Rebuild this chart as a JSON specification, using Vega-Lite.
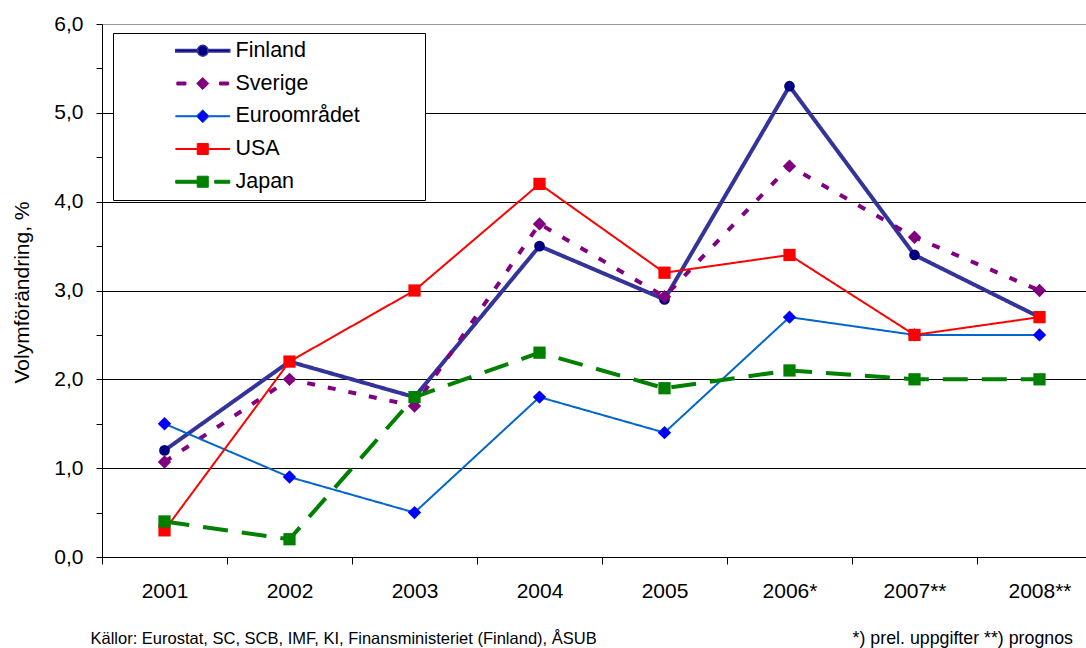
{
  "$schema": "https://vega.github.io/schema/vega-lite/v6.json",
  "width": 1000,
  "height": 533,
  "autosize": {"type": "none"},
  "padding": {"left": 102, "top": 24, "right": 0, "bottom": 91},
  "background": "white",
  "config": {
    "font": "Liberation Sans",
    "view": {"stroke": null}
  },
  "title": {
    "text": "*) prel. uppgifter **) prognos",
    "orient": "bottom",
    "anchor": "end",
    "frame": "group",
    "offset": -3,
    "baseline": "alphabetic",
    "dx": -29,
    "fontSize": 17.8,
    "fontWeight": "normal",
    "color": "#000000",
    "font": "Liberation Sans"
  },
  "data": {
    "values": [
      {"year": "2001", "series": "Finland", "value": 1.2},
      {"year": "2002", "series": "Finland", "value": 2.2},
      {"year": "2003", "series": "Finland", "value": 1.8},
      {"year": "2004", "series": "Finland", "value": 3.5},
      {"year": "2005", "series": "Finland", "value": 2.9},
      {"year": "2006*", "series": "Finland", "value": 5.3},
      {"year": "2007**", "series": "Finland", "value": 3.4},
      {"year": "2008**", "series": "Finland", "value": 2.7},
      {"year": "2001", "series": "Sverige", "value": 1.07},
      {"year": "2002", "series": "Sverige", "value": 2.0},
      {"year": "2003", "series": "Sverige", "value": 1.7},
      {"year": "2004", "series": "Sverige", "value": 3.75},
      {"year": "2005", "series": "Sverige", "value": 2.93},
      {"year": "2006*", "series": "Sverige", "value": 4.4},
      {"year": "2007**", "series": "Sverige", "value": 3.6},
      {"year": "2008**", "series": "Sverige", "value": 3.0},
      {"year": "2001", "series": "Euroområdet", "value": 1.5},
      {"year": "2002", "series": "Euroområdet", "value": 0.9},
      {"year": "2003", "series": "Euroområdet", "value": 0.5},
      {"year": "2004", "series": "Euroområdet", "value": 1.8},
      {"year": "2005", "series": "Euroområdet", "value": 1.4},
      {"year": "2006*", "series": "Euroområdet", "value": 2.7},
      {"year": "2007**", "series": "Euroområdet", "value": 2.5},
      {"year": "2008**", "series": "Euroområdet", "value": 2.5},
      {"year": "2001", "series": "USA", "value": 0.3},
      {"year": "2002", "series": "USA", "value": 2.2},
      {"year": "2003", "series": "USA", "value": 3.0},
      {"year": "2004", "series": "USA", "value": 4.2},
      {"year": "2005", "series": "USA", "value": 3.2},
      {"year": "2006*", "series": "USA", "value": 3.4},
      {"year": "2007**", "series": "USA", "value": 2.5},
      {"year": "2008**", "series": "USA", "value": 2.7},
      {"year": "2001", "series": "Japan", "value": 0.4},
      {"year": "2002", "series": "Japan", "value": 0.2},
      {"year": "2003", "series": "Japan", "value": 1.8},
      {"year": "2004", "series": "Japan", "value": 2.3},
      {"year": "2005", "series": "Japan", "value": 1.9},
      {"year": "2006*", "series": "Japan", "value": 2.1},
      {"year": "2007**", "series": "Japan", "value": 2.0},
      {"year": "2008**", "series": "Japan", "value": 2.0}
    ]
  },
  "encoding": {
    "x": {
      "field": "year",
      "type": "ordinal",
      "sort": null,
      "scale": {
        "type": "band",
        "domain": ["2001", "2002", "2003", "2004", "2005", "2006*", "2007**", "2008**"],
        "paddingInner": 0,
        "paddingOuter": 0
      },
      "axis": {
        "title": "Källor: Eurostat, SC, SCB, IMF, KI, Finansministeriet (Finland), ÅSUB",
        "titleX": -12,
        "titleY": 86,
        "titleAlign": "left",
        "titleBaseline": "alphabetic",
        "titleFontSize": 16.5,
        "titleFontWeight": "normal",
        "titleColor": "#000000",
        "titleFont": "Liberation Sans",
        "labelAngle": 0,
        "labelFontSize": 21,
        "labelFont": "Liberation Sans",
        "labelColor": "#000000",
        "labelPadding": 16,
        "tickSize": 7,
        "tickColor": "#000000",
        "tickBand": "extent",
        "domainColor": "#000000",
        "grid": false
      }
    },
    "y": {
      "field": "value",
      "type": "quantitative",
      "scale": {"domain": [0, 6], "nice": false, "zero": false},
      "axis": {
        "title": "Volymförändring, %",
        "values": [0, 0.5, 1, 1.5, 2, 2.5, 3, 3.5, 4, 4.5, 5, 5.5, 6],
        "labelExpr": "datum.value % 1 === 0 ? replace(format(datum.value, '.1f'), '.', ',') : ''",
        "labelOverlap": false,
        "labelFontSize": 21,
        "labelFont": "Liberation Sans",
        "labelColor": "#000000",
        "labelPadding": 13,
        "tickSize": 6,
        "tickColor": "#000000",
        "domainColor": "#000000",
        "grid": true,
        "gridColor": {"condition": {"test": "datum.value === 6", "value": "#999999"}, "value": "#000000"},
        "gridOpacity": {"condition": {"test": "datum.value % 1 !== 0", "value": 0}, "value": 1},
        "titleFontSize": 21,
        "titleFontWeight": "normal",
        "titleColor": "#000000",
        "titleFont": "Liberation Sans",
        "titleX": -80,
        "titleY": 268,
        "titleAlign": "center",
        "titleBaseline": "middle"
      }
    }
  },
  "layer": [
    {
      "mark": {"type": "line", "opacity": 1},
      "encoding": {
        "color": {
          "field": "series",
          "type": "nominal",
          "scale": {"range": ["#0066CC", "#333399", "#008000", "#800080", "#FF0000"]},
          "legend": null
        },
        "strokeWidth": {
          "field": "series",
          "type": "nominal",
          "scale": {"type": "ordinal", "range": [2, 4, 4, 4, 2]},
          "legend": null
        },
        "strokeDash": {
          "field": "series",
          "type": "nominal",
          "scale": {"range": [[1, 0], [1, 0], [25, 14], [8, 13], [1, 0]]},
          "legend": null
        }
      }
    },
    {
      "mark": {"type": "point", "filled": true, "opacity": 1, "strokeWidth": 0},
      "encoding": {
        "fill": {
          "field": "series",
          "type": "nominal",
          "scale": {"range": ["#0000FF", "#000080", "#008000", "#800080", "#FF0000"]},
          "legend": null
        },
        "size": {
          "field": "series",
          "type": "nominal",
          "scale": {"type": "ordinal", "range": [180, 115, 150, 180, 150]},
          "legend": null
        },
        "shape": {
          "field": "series",
          "type": "nominal",
          "scale": {"range": ["diamond", "circle", "square", "diamond", "square"]},
          "legend": null
        }
      }
    },
    {
      "transform": [{"filter": "false"}],
      "mark": {"type": "point", "filled": true, "opacity": 1},
      "encoding": {
        "fill": {
          "field": "series",
          "type": "nominal",
          "scale": {
            "domain": ["Finland", "Sverige", "Euroområdet", "USA", "Japan"],
            "range": ["#000080", "#800080", "#0000FF", "#FF0000", "#008000"]
          }
        },
        "stroke": {
          "field": "series",
          "type": "nominal",
          "scale": {
            "domain": ["Finland", "Sverige", "Euroområdet", "USA", "Japan"],
            "range": ["#333399", "#800080", "#0066CC", "#FF0000", "#008000"]
          }
        },
        "strokeWidth": {
          "field": "series",
          "type": "nominal",
          "scale": {
            "type": "ordinal",
            "domain": ["Finland", "Sverige", "Euroområdet", "USA", "Japan"],
            "range": [1.5, 1, 1, 1, 1]
          }
        },
        "shape": {
          "field": "series",
          "type": "nominal",
          "scale": {
            "domain": ["Finland", "Sverige", "Euroområdet", "USA", "Japan"],
            "range": [
              "M-3.86,-0.18H-0.7V0.18H-3.86Z M0.7,-0.18H3.86V0.18H0.7Z M0.77,0A0.77,0.77 0 1 1 -0.77,0A0.77,0.77 0 1 1 0.77,0Z M30.3,0Z",
              "M-3.7,-0.21H-2.4V0.21H-3.7Z M2.4,-0.21H3.7V0.21H2.4Z M0,-0.86L0.86,0L0,0.86L-0.86,0Z M30.3,0Z",
              "M-3.86,-0.07H-0.8V0.07H-3.86Z M0.8,-0.07H3.86V0.07H0.8Z M0,-0.93L0.93,0L0,0.93L-0.93,0Z M30.3,0Z",
              "M-3.86,-0.07H-0.7V0.07H-3.86Z M0.7,-0.07H3.86V0.07H0.7Z M-0.79,-0.79H0.79V0.79H-0.79Z M30.3,0Z",
              "M-3.86,-0.21H-0.7V0.21H-3.86Z M1.71,-0.21H3.86V0.21H1.71Z M-0.79,-0.79H0.79V0.79H-0.79Z M30.3,0Z"
            ]
          },
          "legend": {
            "title": null,
            "orient": "none",
            "legendX": 11,
            "legendY": 9,
            "direction": "vertical",
            "padding": 7,
            "strokeColor": "#000000",
            "fillColor": "#FFFFFF",
            "symbolSize": 196,
            "symbolOpacity": 1,
            "symbolOffset": 72,
            "labelOffset": 22,
            "rowPadding": 9.75,
            "labelFontSize": 21.5,
            "labelFont": "Liberation Sans",
            "labelColor": "#000000",
            "labelLimit": 400
          }
        }
      }
    }
  ],
  "resolve": {
    "scale": {
      "shape": "independent",
      "fill": "independent",
      "strokeWidth": "independent",
      "stroke": "independent",
      "color": "independent",
      "size": "independent"
    }
  }
}
